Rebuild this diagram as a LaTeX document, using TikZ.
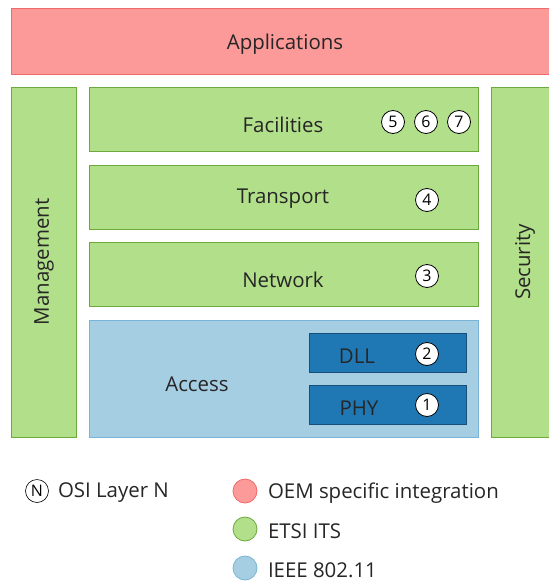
\documentclass[tikz,border=0pt]{standalone}
\usepackage{fontspec}
\setmainfont{Open Sans}
\begin{document}
\begin{tikzpicture}[x=1bp,y=-1bp,
  every node/.style={inner sep=0pt,outer sep=0pt},
  layer/.style={draw, line width=1pt},
  oem/.style={layer, fill=oemfill, draw=oemline},
  etsi/.style={layer, fill=etsifill, draw=etsiline},
  ieee/.style={layer, fill=ieeefill, draw=ieeeline},
  phybox/.style={layer, fill=phyfill, draw=phyline},
  lbl/.style={font=\fontsize{20.5}{22}\selectfont, text=black!85},
  osi/.style={circle, draw=black, line width=0.8pt, fill=white, minimum size=23bp,
    font=\fontsize{16}{16}\selectfont},
  dot/.style={circle, line width=0.8pt, minimum size=24bp}
]
\definecolor{oemfill}{HTML}{FB9A99}
\definecolor{oemline}{HTML}{F06A6A}
\definecolor{etsifill}{HTML}{B2DF8A}
\definecolor{etsiline}{HTML}{6DAA3E}
\definecolor{ieeefill}{HTML}{A6CEE3}
\definecolor{ieeeline}{HTML}{78B4D8}
\definecolor{phyfill}{HTML}{1F78B4}
\definecolor{phyline}{HTML}{174F78}
\useasboundingbox (0,0) rectangle (549,584);

% stack of layers
\draw[oem] (11,9) rectangle (560,74);
\node[lbl] (apps) at (285,44) {Applications};

\draw[etsi] (11,87) rectangle (76,437);
\node[lbl, rotate=90] (mgmt) at (44,262) {Management};
\draw[etsi] (491,87) rectangle (560,437);
\node[lbl, rotate=90] (sec) at (525,262) {Security};

\draw[etsi] (89,87) rectangle (478,151);
\node[lbl] (fac) at (283,125) {Facilities};
\draw[etsi] (89,165) rectangle (478,229);
\node[lbl] (trans) at (283,199) {Transport};
\draw[etsi] (89,242) rectangle (478,306);
\node[lbl] (net) at (283,280) {Network};

\draw[ieee] (89,320) rectangle (478,437);
\node[lbl] (acc) at (197,384) {Access};
\draw[phybox] (309,333) rectangle (466,372);
\node[lbl] (dll) at (357,356) {DLL};
\draw[phybox] (309,385) rectangle (466,424);
\node[lbl] (phy) at (359,408) {PHY};

% OSI layer numbers
\node[osi] (l5) at (393,122) {5};
\node[osi] (l6) at (426,122) {6};
\node[osi] (l7) at (459,122) {7};
\node[osi] (l4) at (427,200) {4};
\node[osi] (l3) at (427,276) {3};
\node[osi] (l2) at (427,354) {2};
\node[osi] (l1) at (427,405) {1};

% legend
\node[osi, fill=none, line width=0.6pt] (lN) at (37,491) {N};
\node[lbl, anchor=west] (lNt) at (58,493) {OSI Layer N};
\node[dot, fill=oemfill, draw=oemline] (lr) at (245,491) {};
\node[lbl, anchor=west] (lrt) at (268,493) {OEM specific integration};
\node[dot, fill=etsifill, draw=etsiline] (lg) at (245,529) {};
\node[lbl, anchor=west] (lgt) at (268,531) {ETSI ITS};
\node[dot, fill=ieeefill, draw=ieeeline] (lb) at (245,568) {};
\node[lbl, anchor=west] (lbt) at (268,570) {IEEE 802.11};
\end{tikzpicture}
\end{document}
